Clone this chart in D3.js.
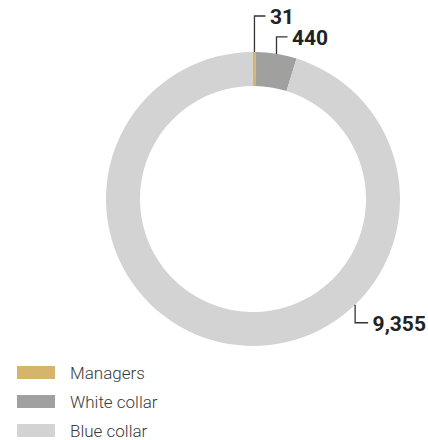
<!DOCTYPE html>
<html>
<head>
<meta charset="utf-8">
<script src="https://cdn.jsdelivr.net/npm/d3@7"></script>
<style>
  html, body { margin: 0; padding: 0; background: #fff; }
  svg { display: block; }
</style>
</head>
<body>
<svg id="chart" width="428" height="440"></svg>
<script>
// Workforce by category
const categories = ["Managers", "White collar", "Blue collar"];
const values = [31, 440, 9355];
const colors = ["#d5b56b", "#a0a09f", "#d3d3d3"];

const svg = d3.select("#chart");
const cx = 253, cy = 199;
const outerR = 147, innerR = 113;

const pie = d3.pie().sort(null).value(d => d.value);
const arcs = pie(categories.map((c, i) => ({ name: c, value: values[i], color: colors[i] })));

const arc = d3.arc().innerRadius(innerR).outerRadius(outerR);

const g = svg.append("g").attr("transform", `translate(${cx},${cy})`);

g.selectAll("path.slice")
  .data(arcs)
  .join("path")
  .attr("class", "slice")
  .attr("d", arc)
  .attr("fill", d => d.data.color);

// Value callouts: an elbow line from the outer rim to the label
const fmt = d3.format(",");
const callout = [
  { rise: -36, run: 11 },
  { rise: -17, run: 11 },
  { rise: 18, run: 13, angle: 136 * Math.PI / 180 }
];

arcs.forEach((d, i) => {
  const c = callout[i];
  const a = c.angle !== undefined ? c.angle : (d.startAngle + d.endAngle) / 2;
  const x0 = outerR * Math.sin(a);
  const y0 = -outerR * Math.cos(a);
  const y1 = y0 + c.rise;
  const x1 = x0 + c.run;
  g.append("path")
    .attr("d", `M${x0},${y0}V${y1}H${x1}`)
    .attr("fill", "none")
    .attr("stroke", "#333")
    .attr("stroke-width", 1.3);
  g.append("text")
    .attr("x", x1 + 4.5)
    .attr("y", y1 + 8)
    .attr("font-family", "Roboto, sans-serif")
    .attr("font-weight", 700)
    .attr("font-size", 21)
    .attr("fill", "#222")
    .text(fmt(d.data.value));
});

// Legend
const legend = svg.append("g").attr("transform", "translate(17,366)");
const item = legend.selectAll("g")
  .data(categories)
  .join("g")
  .attr("transform", (d, i) => `translate(0,${i * 29})`);

item.append("rect")
  .attr("width", 38)
  .attr("height", 13)
  .attr("fill", (d, i) => colors[i]);

item.append("text")
  .attr("x", 53)
  .attr("y", 13)
  .attr("font-family", "Roboto, sans-serif")
  .attr("font-weight", 300)
  .attr("font-size", 17)
  .attr("fill", "#3a3a3a")
  .text(d => d);
</script>
</body>
</html>
